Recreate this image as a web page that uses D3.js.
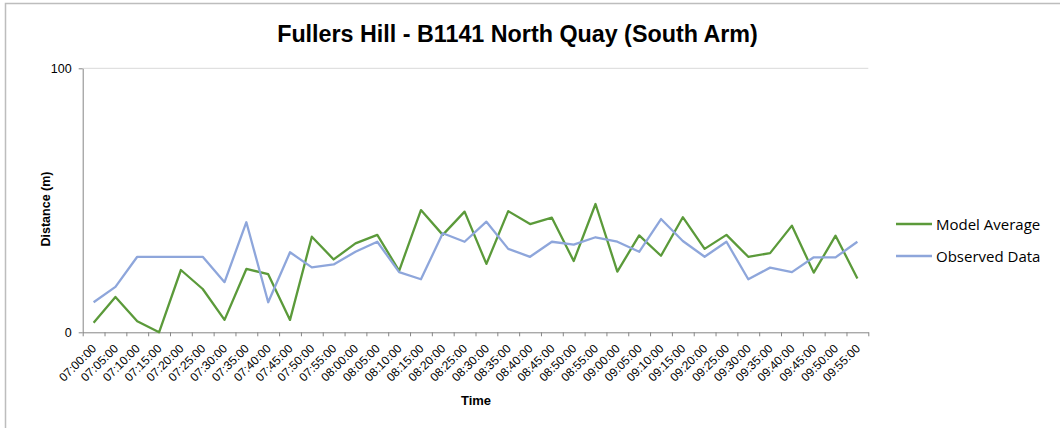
<!DOCTYPE html>
<html>
<head>
<meta charset="utf-8">
<script src="https://cdn.jsdelivr.net/npm/d3@7"></script>
<style>
  html, body { margin: 0; padding: 0; background: #fff; }
  svg { display: block; }
</style>
</head>
<body>
<svg id="chart" width="1060" height="428"></svg>
<script>
// Five-minute intervals, 07:00 to 09:55
const times = [
  "07:00:00","07:05:00","07:10:00","07:15:00","07:20:00","07:25:00",
  "07:30:00","07:35:00","07:40:00","07:45:00","07:50:00","07:55:00",
  "08:00:00","08:05:00","08:10:00","08:15:00","08:20:00","08:25:00",
  "08:30:00","08:35:00","08:40:00","08:45:00","08:50:00","08:55:00",
  "09:00:00","09:05:00","09:10:00","09:15:00","09:20:00","09:25:00",
  "09:30:00","09:35:00","09:40:00","09:45:00","09:50:00","09:55:00"
];

// Queue distance (m)
const modelAverage = [
  3.6, 13.4, 4.2, 0.0, 23.6, 16.4, 4.7, 24.0, 22.0, 4.7, 36.2, 27.6,
  33.7, 36.9, 23.3, 46.3, 36.9, 45.7, 25.9, 45.9, 41.0, 43.4, 27.0, 48.6,
  23.0, 36.7, 29.0, 43.6, 31.6, 36.9, 28.6, 30.0, 40.4, 22.6, 36.6, 20.4
];
const observedData = [
  11.4, 17.2, 28.6, 28.6, 28.6, 28.6, 19.0, 41.7, 11.4, 30.3, 24.6, 25.7,
  30.5, 34.3, 22.8, 20.1, 37.5, 34.3, 41.9, 31.6, 28.6, 34.3, 33.2, 36.0,
  34.3, 30.5, 42.9, 34.6, 28.6, 34.3, 20.1, 24.5, 22.8, 28.4, 28.4, 34.3
];
const yTicks = [0, 100];

const seriesNames = ["Model Average", "Observed Data"];
const seriesColors = ["#5b9a3a", "#8ea6db"];

const svg = d3.select("#chart");

// outer chart frame
svg.append("rect")
  .attr("x", 5.5).attr("y", 3.5)
  .attr("width", 1070).attr("height", 440)
  .attr("fill", "#fff")
  .attr("stroke", "#bdbdbd").attr("stroke-width", 1.5);

const plot = { left: 82.7, right: 868.3, top: 68.3, bottom: 332.3 };

const x = d3.scaleBand().domain(times).range([plot.left, plot.right]).padding(0);
const xEdge = d3.scaleLinear().domain([0, times.length]).range([plot.left, plot.right]);
const y = d3.scaleLinear().domain([0, 100]).range([plot.bottom, plot.top]);
const cx = t => x(t) + x.bandwidth() / 2;

// top gridline
svg.append("g")
  .selectAll("line")
  .data(yTicks.filter(v => v > 0))
  .join("line")
  .attr("x1", plot.left).attr("x2", plot.right)
  .attr("y1", d => y(d)).attr("y2", d => y(d))
  .attr("stroke", "#d9d9d9").attr("stroke-width", 1);

// y axis
const yAxis = svg.append("g")
  .attr("transform", `translate(${plot.left},0)`)
  .call(d3.axisLeft(y).tickValues(yTicks).tickSize(4).tickSizeOuter(0).tickPadding(7));
yAxis.select(".domain").attr("stroke", "#868686");
yAxis.selectAll(".tick line").attr("stroke", "#868686");
yAxis.selectAll(".tick text")
  .attr("font-family", "'Liberation Sans', Arial, sans-serif")
  .attr("font-size", 12.5).attr("fill", "#000");

// x axis: tick marks on category edges
const xAxis = svg.append("g")
  .attr("transform", `translate(0,${plot.bottom})`)
  .call(d3.axisBottom(xEdge).tickValues(d3.range(times.length + 1)).tickFormat("").tickSize(4).tickSizeOuter(0));
xAxis.select(".domain").attr("stroke", "#868686");
xAxis.selectAll(".tick line").attr("stroke", "#868686");

// rotated category labels
svg.append("g")
  .selectAll("text")
  .data(times)
  .join("text")
  .attr("transform", d => `translate(${cx(d) + 0.5},${plot.bottom + 14}) rotate(-45)`)
  .attr("text-anchor", "end")
  .attr("dy", "0.35em")
  .attr("font-family", "'Liberation Sans', Arial, sans-serif")
  .attr("font-size", 12)
  .attr("fill", "#000")
  .text(d => d);

// series lines
const line = d3.line().x((d, i) => cx(times[i])).y(d => y(d));
[modelAverage, observedData].forEach((vals, k) => {
  svg.append("path")
    .datum(vals)
    .attr("d", line)
    .attr("fill", "none")
    .attr("stroke", seriesColors[k])
    .attr("stroke-width", 2.3)
    .attr("stroke-linejoin", "round");
});

// title
svg.append("text")
  .attr("x", 517.5).attr("y", 42)
  .attr("text-anchor", "middle")
  .attr("font-family", "'Liberation Sans', Arial, sans-serif")
  .attr("font-weight", "bold").attr("font-size", 23.3)
  .text("Fullers Hill - B1141 North Quay (South Arm)");

// axis titles
svg.append("text")
  .attr("transform", "translate(50,209) rotate(-90)")
  .attr("text-anchor", "middle")
  .attr("font-family", "'Liberation Sans', Arial, sans-serif")
  .attr("font-weight", "bold").attr("font-size", 12.5)
  .text("Distance (m)");

svg.append("text")
  .attr("x", 476).attr("y", 405)
  .attr("text-anchor", "middle")
  .attr("font-family", "'Liberation Sans', Arial, sans-serif")
  .attr("font-weight", "bold").attr("font-size", 13)
  .text("Time");

// legend
const legend = svg.append("g");
seriesNames.forEach((name, k) => {
  const ly = 224 + k * 32;
  legend.append("line")
    .attr("x1", 896).attr("x2", 932)
    .attr("y1", ly).attr("y2", ly)
    .attr("stroke", seriesColors[k]).attr("stroke-width", 2.3);
  legend.append("text")
    .attr("x", 936).attr("y", ly + 5.5)
    .attr("font-family", "'Open Sans', sans-serif")
    .attr("font-size", 15)
    .attr("fill", "#000")
    .text(name);
});
</script>
</body>
</html>
